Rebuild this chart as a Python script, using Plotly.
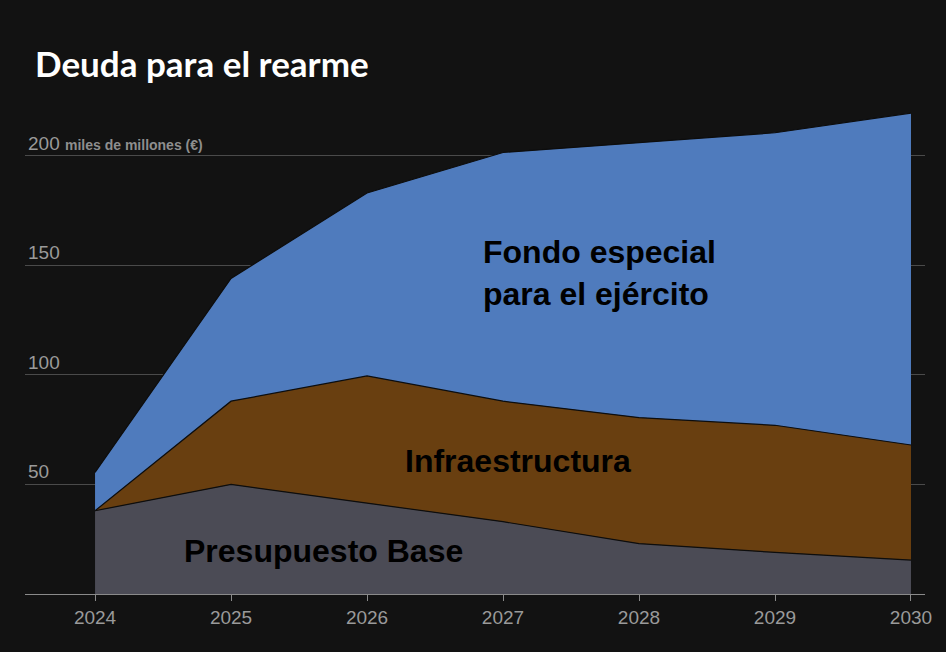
import plotly.graph_objects as go

years = [2024, 2025, 2026, 2027, 2028, 2029, 2030]
presupuesto_base = [38, 50, 41.5, 33, 23, 19, 15.5]
infraestructura = [0, 38, 58, 55, 57.5, 58, 52.5]
fondo_especial = [17.5, 56, 83.5, 113.5, 125.5, 133.5, 151.5]

y_tickvals = [50, 100, 150, 200]
y_ticktext = ["50", "100", "150",
              "200 <b><span style='font-size:14px;color:#8e8e8e'>miles de millones (€)</span></b>"]

series = [
    ("Presupuesto Base", presupuesto_base, "#4b4b55"),
    ("Infraestructura", infraestructura, "#693f10"),
    ("Fondo especial para el ejército", fondo_especial, "#4f7bbd"),
]

fig = go.Figure()
for name, vals, color in series:
    fig.add_trace(go.Scatter(
        x=years, y=vals, name=name, mode="lines",
        stackgroup="one", fillcolor=color,
        line=dict(color="#0d0d0d", width=1.2),
        hoverinfo="x+y+name",
    ))

bg = "#121212"
annotations = [
    dict(text=t, xref="paper", yref="y", x=0, y=v, xanchor="left", yanchor="bottom",
         xshift=1, yshift=0, showarrow=False,
         font=dict(size=19, color="#9a9a9a"))
    for v, t in zip(y_tickvals, y_ticktext)
]
annotations += [
    dict(text="Deuda para el rearme", xref="paper", yref="paper",
         x=8/900, y=1+(101-63)/493, xanchor="left", yanchor="middle",
         showarrow=False,
         font=dict(family="Lato, Open Sans, sans-serif", size=35, color="white", weight="bold")),
    dict(text="<b>Fondo especial<br>para el ejército</b>", x=2026.84, y=146.4,
         xanchor="left", yanchor="middle", align="left", showarrow=False,
         font=dict(size=32, color="#000000")),
    dict(text="<b>Infraestructura</b>", x=2027.11, y=60.7,
         xanchor="center", yanchor="middle", showarrow=False,
         font=dict(size=32, color="#000000")),
    dict(text="<b>Presupuesto Base</b>", x=2025.68, y=19.6,
         xanchor="center", yanchor="middle", showarrow=False,
         font=dict(size=32, color="#000000")),
]

fig.update_layout(
    width=946, height=652,
    paper_bgcolor=bg, plot_bgcolor=bg,
    margin=dict(l=25, r=21, t=101, b=58),
    showlegend=False,
    font=dict(family="Liberation Sans, Arial, sans-serif", color="#9a9a9a"),
    xaxis=dict(
        range=[2023.485, 2030.103],
        tickvals=years, ticktext=[str(y) for y in years],
        showgrid=False, zeroline=False,
        showline=True, linecolor="#8a8a8a", linewidth=1,
        ticks="outside", ticklen=6, tickcolor="#8a8a8a",
        tickfont=dict(size=19, color="#9a9a9a"),
    ),
    yaxis=dict(
        range=[0, 225],
        tickvals=y_tickvals,
        showticklabels=False,
        showgrid=True, gridcolor="#4a4a4a", gridwidth=1,
        zeroline=False, showline=False, ticks="",
    ),
    annotations=annotations,
)

fig.write_html("out.html")
